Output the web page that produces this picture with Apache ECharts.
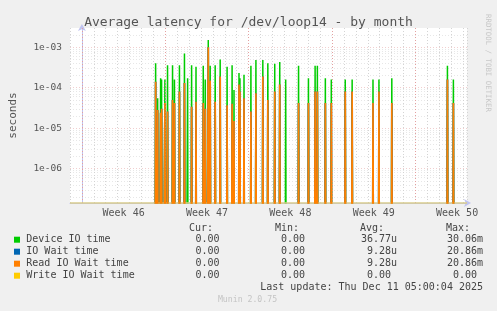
<!DOCTYPE html>
<html><head><meta charset="utf-8">
<script src="https://cdn.jsdelivr.net/npm/echarts@6/dist/echarts.min.js"></script>
<style>html,body{margin:0;padding:0;background:#f0f0f0}#c{width:497px;height:311px}</style>
</head><body><div id="c"></div>
<script>
// ---- data (x = days since start of Week 46) ----
const spikeDays = [6.19,6.36,6.61,6.69,6.97,7.19,7.61,7.77,8.19,8.61,8.875,9.21,9.58,
  10.19,10.36,10.61,10.77,11.19,11.61,12.19,12.61,12.77,13.19,13.27,13.61,
  14.19,14.61,15.19,15.61,16.19,16.61,17.11,18.19,19.02,19.58,19.77,20.44,20.94,
  22.11,22.69,24.44,24.94,26.02,30.69,31.19];
const deviceIOTime = [4.0e-4,5.5e-5,1.7e-4,1.6e-4,1.6e-4,3.6e-4,3.6e-4,1.6e-4,3.6e-4,7.0e-4,1.7e-4,3.6e-4,3.3e-4,
  3.5e-4,1.6e-4,1.5e-3,3.5e-4,3.6e-4,5.0e-4,3.3e-4,3.6e-4,8.8e-5,2.3e-4,1.7e-4,2.1e-4,
  3.5e-4,4.8e-4,4.8e-4,4.0e-4,3.9e-4,4.3e-4,1.6e-4,3.5e-4,1.7e-4,3.5e-4,3.5e-4,1.7e-4,1.6e-4,
  1.6e-4,1.6e-4,1.6e-4,1.6e-4,1.7e-4,3.5e-4,1.6e-4];
const ioWaitTime = [1.4e-4,2.8e-5,2.4e-5,3.0e-5,4.2e-5,2.6e-5,5.0e-5,4.2e-5,8.0e-5,1.3e-4,0,3.4e-5,4.5e-5,
  4.2e-5,3.0e-5,1.0e-3,1.5e-4,4.5e-5,1.9e-4,3.7e-5,4.0e-5,1.5e-5,1.2e-4,8.0e-5,5.5e-5,
  2.6e-5,7.3e-5,1.9e-4,5.0e-5,8.0e-5,1.2e-4,0,4.2e-5,4.2e-5,8.0e-5,8.0e-5,4.2e-5,4.2e-5,
  8.0e-5,8.0e-5,4.2e-5,8.0e-5,4.2e-5,1.6e-4,4.2e-5];
const readIOWaitTime = [1.4e-4,2.8e-5,2.4e-5,3.0e-5,4.2e-5,2.6e-5,5.0e-5,4.2e-5,8.0e-5,1.3e-4,0,3.4e-5,4.5e-5,
  4.2e-5,3.0e-5,1.0e-3,1.5e-4,4.5e-5,1.9e-4,3.7e-5,4.0e-5,1.5e-5,1.2e-4,8.0e-5,5.5e-5,
  2.6e-5,7.3e-5,1.9e-4,5.0e-5,8.0e-5,1.2e-4,0,4.2e-5,4.2e-5,8.0e-5,8.0e-5,4.2e-5,4.2e-5,
  8.0e-5,8.0e-5,4.2e-5,8.0e-5,4.2e-5,1.6e-4,4.2e-5];
const writeIOWaitTime = spikeDays.map(() => 0);

const weekLabels = ['Week 46','Week 47','Week 48','Week 49','Week 50'];
const weekLabelDays = [3.5,10.5,17.5,24.5,31.5];
const weekStarts = [0,7,14,21,28];
const yTickExps = [-6,-5,-4,-3];

const legendNames = ['Device IO time','IO Wait time','Read IO Wait time','Write IO Wait time'];
const legendColors = ['#00cc00','#0066b3','#ff8000','#ffcc00'];
const curVals = ['0.00','0.00','0.00','0.00'];
const minVals = ['0.00','0.00','0.00','0.00'];
const avgVals = ['36.77u','9.28u','9.28u','0.00 '];
const maxVals = ['30.06m','20.86m','20.86m','0.00 '];

// ---- chart ----
const FONT = 'DejaVu Sans Mono';
const FLOOR = 1e-15;         // zero on a log axis (far below the visible range)
const STEP = 2 / 24;         // 2-hour sample step
const Y_MIN = Math.pow(10, -6.847), Y_MAX = Math.pow(10, -2.526);
const X_MIN = -1, X_MAX = 32 + 1/3;

function spikes(vals) {
  const d = [];
  vals.forEach((v, i) => {
    if (v > 0) {
      const t = spikeDays[i];
      d.push([t - STEP, FLOOR], [t, v], [t + STEP, FLOOR]);
    }
  });
  if (!d.length) d.push([X_MIN, FLOOR], [X_MAX, FLOOR]);
  return d;
}

const minorY = [];
for (let e = -7; e <= -3; e++) for (let k = 2; k <= 9; k++) {
  const v = k * Math.pow(10, e);
  if (v > Y_MIN && v < Y_MAX) minorY.push(v);
}

const gridRect = {left: 67, top: 28, width: 400, height: 175};
const dotted = (c) => ({color: c, type: [1, 2], width: 1});

function lineSeries(name, vals, color, z, w) {
  return {name, type: 'line', data: spikes(vals), xAxisIndex: 0, yAxisIndex: 0,
    showSymbol: false, symbol: 'none', clip: true, z,
    lineStyle: {color, width: w}, animation: false};
}

function hGrid(values, color) {
  return {type: 'lines', coordinateSystem: 'cartesian2d', xAxisIndex: 0, yAxisIndex: 0,
    silent: true, z: 1, animation: false, polyline: false,
    lineStyle: dotted(color), effect: {show: false},
    data: values.map(v => ({coords: [[X_MIN, v], [X_MAX, v]]}))};
}

const series = [
  hGrid(minorY, '#cfcfcf'),
  hGrid(yTickExps.map(e => Math.pow(10, e)), '#e3a0a0'),
  {type: 'line', data: [[X_MIN, FLOOR]], xAxisIndex: 0, yAxisIndex: 0, silent: true, z: 1,
    symbol: 'none', lineStyle: {opacity: 0}, clip: true,
    markLine: {silent: true, symbol: 'none', label: {show: false}, animation: false,
      lineStyle: dotted('#e3a0a0'), data: weekStarts.map(d => ({xAxis: d}))}},
  lineSeries('Device IO time', deviceIOTime, legendColors[0], 3, 1.5),
  lineSeries('IO Wait time', ioWaitTime, legendColors[1], 4, 1.7),
  lineSeries('Read IO Wait time', readIOWaitTime, legendColors[2], 5, 1.7),
  Object.assign(lineSeries('Write IO Wait time', writeIOWaitTime, legendColors[3], 6, 1), {
    markLine: {silent: true, symbol: 'none', label: {show: false}, animation: false,
      lineStyle: {color: '#d8cc8c', width: 1.5, type: 'solid'},
      data: [[{coord: [X_MIN, Y_MIN]}, {coord: [X_MAX, Y_MIN]}]]}})
];

const graphic = [];
const txt = (x, y, s, opt) => graphic.push({type: 'text', x, y, silent: true,
  style: Object.assign({text: s, font: '10px "' + FONT + '"', fill: '#444',
    textAlign: 'left', textVerticalAlign: 'middle'}, opt || {})});

['Cur:', 'Min:', 'Avg:', 'Max:'].forEach((h, i) =>
  txt([213, 299, 384, 470][i], 228, h, {textAlign: 'right'}));
legendNames.forEach((n, i) => {
  const y = 239.7 + i * 12;
  graphic.push({type: 'rect', x: 14, y: y - 3, silent: true,
    shape: {width: 6, height: 6}, style: {fill: legendColors[i]}});
  txt(26.3, y, n);
  txt(219.5, y, curVals[i], {textAlign: 'right'});
  txt(305, y, minVals[i], {textAlign: 'right'});
  txt(397, y, avgVals[i], {textAlign: 'right'});
  txt(483, y, maxVals[i], {textAlign: 'right'});
});
txt(483, 287.3, 'Last update: Thu Dec 11 05:00:04 2025', {textAlign: 'right'});
txt(247.5, 300, 'Munin 2.0.75', {textAlign: 'center', fill: '#c4c4c4', font: '8.2px "' + FONT + '"'});
graphic.push({type: 'text', x: 488, y: 14, rotation: -Math.PI / 2, silent: true,
  style: {text: 'RRDTOOL / TOBI OETIKER', font: '7.4px "' + FONT + '"', fill: '#c8c8c8',
    textAlign: 'left', textVerticalAlign: 'middle'}});

const chart = echarts.init(document.getElementById('c'), null, {renderer: 'canvas'});
chart.setOption({
  animation: false,
  backgroundColor: '#f0f0f0',
  title: {text: 'Average latency for /dev/loop14 - by month', left: 'center', top: 11,
    textStyle: {fontFamily: FONT, fontSize: 13, fontWeight: 'normal', color: '#555'}},
  grid: Object.assign({backgroundColor: '#ffffff', show: true, borderWidth: 0}, gridRect),
  xAxis: [
    {type: 'value', min: X_MIN, max: X_MAX, interval: 1,
      axisLine: {show: true, lineStyle: {color: '#c0c4f0'}, symbol: ['none', 'arrow'], symbolSize: [6, 7], symbolOffset: [0, 4]},
      axisTick: {show: false}, axisLabel: {show: false},
      splitLine: {show: true, lineStyle: dotted('#d4d4d4')}},
    {type: 'value', min: X_MIN, max: X_MAX, interval: 0.5, position: 'bottom',
      axisLine: {show: false}, axisTick: {show: false}, splitLine: {show: false},
      axisLabel: {show: true, margin: 5, fontFamily: FONT, fontSize: 10, color: '#555',
        showMinLabel: true, showMaxLabel: true,
        formatter: v => {
          const i = weekLabelDays.findIndex(d => Math.abs(d - v) < 1e-6);
          return i >= 0 ? weekLabels[i] : '';
        }}}
  ],
  yAxis: {type: 'log', logBase: 10, min: Y_MIN, max: Y_MAX,
    name: 'seconds', nameLocation: 'middle', nameGap: 51, nameRotate: 90,
    nameTextStyle: {fontFamily: FONT, fontSize: 11, color: '#555'},
    axisLine: {show: true, lineStyle: {color: '#c0c4f0'}, symbol: ['none', 'arrow'], symbolSize: [6, 7], symbolOffset: [0, 4]},
    axisTick: {show: false}, splitLine: {show: false},
    axisLabel: {margin: 8, fontFamily: FONT, fontSize: 9.5, color: '#555',
      showMinLabel: false, showMaxLabel: false,
      formatter: v => {
        const e = Math.log10(v), r = Math.round(e);
        if (Math.abs(e - r) > 1e-6 || yTickExps.indexOf(r) < 0) return '';
        return '1e-' + String(-r).padStart(2, '0');
      }}},
  series,
  graphic
});
</script></body></html>
